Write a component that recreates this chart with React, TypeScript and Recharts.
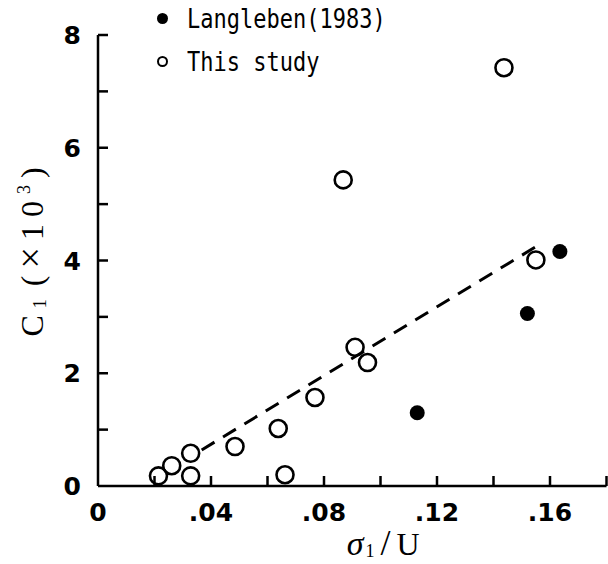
import React from "react";
import { ScatterChart, Scatter, XAxis, YAxis, ReferenceLine } from "recharts";

// values: sigma1/U against C1 (x10^3)
const studyX = [0.0214, 0.0261, 0.0328, 0.0328, 0.0485, 0.0638, 0.0662, 0.0768, 0.0868, 0.091, 0.0954, 0.1437, 0.155];
const studyY = [0.18, 0.36, 0.18, 0.58, 0.7, 1.02, 0.2, 1.57, 5.43, 2.46, 2.19, 7.42, 4.01];

const langlebenX = [0.113, 0.152, 0.1635];
const langlebenY = [1.3, 3.06, 4.16];

// dashed fit line end points
const fitX = [0.0367, 0.1565];
const fitY = [0.64, 4.29];

const xTicks = [0, 0.02, 0.04, 0.06, 0.08, 0.1, 0.12, 0.14, 0.16, 0.18];
const xTickLabels = ["0", "", ".04", "", ".08", "", ".12", "", ".16", ""];
const yTicks = [0, 1, 2, 3, 4, 5, 6, 7, 8];
const yTickLabels = ["0", "", "2", "", "4", "", "6", "", "8"];

const studyData = studyX.map((x, i) => ({ x, y: studyY[i] }));
const langlebenData = langlebenX.map((x, i) => ({ x, y: langlebenY[i] }));

const tickFont = "'DejaVu Sans', sans-serif";
const titleFont = "'Liberation Serif', serif";

const XTick = (props: any) => {
  const { x, y, index } = props;
  return (
    <g>
      {index > 0 && <line x1={x} y1={y} x2={x} y2={y - 10} stroke="#000" strokeWidth={2.5} />}
      <text x={x} y={y + 35} textAnchor="middle" fontFamily={tickFont} fontWeight="bold" fontSize={25} fill="#000">
        {xTickLabels[index]}
      </text>
    </g>
  );
};

const YTick = (props: any) => {
  const { x, y, index } = props;
  return (
    <g>
      {index > 0 && <line x1={x} y1={y} x2={x + 10} y2={y} stroke="#000" strokeWidth={2.5} />}
      <text x={x - 17} y={y} dy="0.36em" textAnchor="end" fontFamily={tickFont} fontWeight="bold" fontSize={25} fill="#000">
        {yTickLabels[index]}
      </text>
    </g>
  );
};

const OpenCircle = (props: any) => (
  <circle cx={props.cx} cy={props.cy} r={8.5} fill="none" stroke="#000" strokeWidth={2.6} />
);

const FilledCircle = (props: any) => <circle cx={props.cx} cy={props.cy} r={7.5} fill="#000" />;

const YTitle = (props: any) => {
  const { viewBox } = props;
  const cx = viewBox.x + viewBox.width - 55;
  const cy = viewBox.y + viewBox.height / 2 - 12;
  return (
    <text
      x={cx}
      y={cy}
      transform={`rotate(-90 ${cx} ${cy})`}
      textAnchor="middle"
      fontFamily={titleFont}
      fontSize={32}
      letterSpacing={7}
      fill="#000"
    >
      <tspan>C</tspan>
      <tspan fontSize={18} dy={3}>1</tspan>
      <tspan dy={-3} dx={6}>(</tspan>
      <tspan fontSize={38}>×</tspan>
      <tspan>10</tspan>
      <tspan fontSize={18} dy={-13}>3</tspan>
      <tspan dy={13}>)</tspan>
    </text>
  );
};

const XTitle = (props: any) => {
  const { viewBox } = props;
  const cx = viewBox.x + viewBox.width / 2 + 31;
  const cy = viewBox.y + 69;
  return (
    <text x={cx} y={cy} textAnchor="middle" fontFamily={titleFont} fontSize={32} fill="#000">
      <tspan fontStyle="italic" fontSize={34}>σ</tspan>
      <tspan fontSize={18} dy={2} dx={2}>1</tspan>
      <tspan dy={-2} dx={6} fontSize={36}>/</tspan>
      <tspan dx={6}>U</tspan>
    </text>
  );
};

const legendRow: React.CSSProperties = { display: "flex", alignItems: "center", height: 43 };

export default function App() {
  return (
    <div style={{ position: "absolute", left: 0, top: 0, width: 608, height: 564, background: "#fff" }}>
      <ScatterChart width={608} height={564} margin={{ top: 35, right: 1.5, bottom: 38, left: 38 }}>
        <XAxis
          type="number"
          dataKey="x"
          domain={[0, 0.18]}
          ticks={xTicks}
          interval={0}
          height={40}
          tickSize={0}
          tickMargin={0}
          tickLine={false}
          tick={XTick}
          axisLine={{ stroke: "#000", strokeWidth: 2.5 }}
          label={XTitle}
          allowDataOverflow
        />
        <YAxis
          type="number"
          dataKey="y"
          domain={[0, 8]}
          ticks={yTicks}
          interval={0}
          width={60}
          tickSize={0}
          tickMargin={0}
          tickLine={false}
          tick={YTick}
          axisLine={{ stroke: "#000", strokeWidth: 2.5 }}
          label={YTitle}
          allowDataOverflow
        />
        <ReferenceLine
          segment={[
            { x: fitX[0], y: fitY[0] },
            { x: fitX[1], y: fitY[1] },
          ]}
          stroke="#000"
          strokeWidth={3}
          strokeDasharray="15 10"
          ifOverflow="visible"
        />
        <Scatter name="This study" data={studyData} shape={OpenCircle} isAnimationActive={false} />
        <Scatter name="Langleben(1983)" data={langlebenData} shape={FilledCircle} isAnimationActive={false} />
      </ScatterChart>
      <div
        style={{
          position: "absolute",
          left: 157,
          top: -3,
          fontFamily: "'DejaVu Sans Mono', monospace",
          fontSize: 22,
          color: "#000",
        }}
      >
        <div style={legendRow}>
          <span style={{ width: 11, height: 11, borderRadius: "50%", background: "#000", marginRight: 19 }} />
          <span style={{ display: "inline-block", transform: "scaleY(1.2)" }}>Langleben(1983)</span>
        </div>
        <div style={legendRow}>
          <span
            style={{ width: 7, height: 7, borderRadius: "50%", border: "2.5px solid #000", marginRight: 19 }}
          />
          <span style={{ display: "inline-block", transform: "scaleY(1.2)" }}>This study</span>
        </div>
      </div>
    </div>
  );
}
